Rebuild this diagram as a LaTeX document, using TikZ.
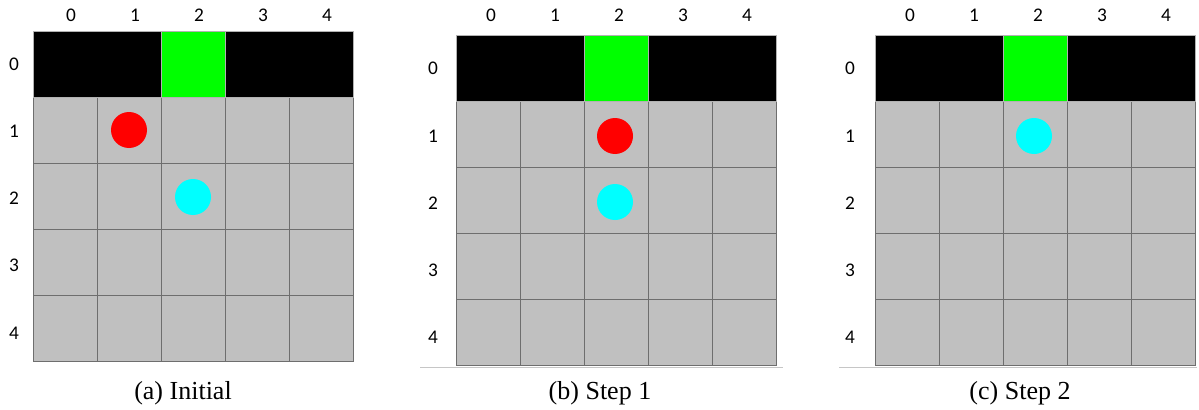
\documentclass[tikz,border=0pt]{standalone}
\usepackage{fontspec}
\setmainfont{Liberation Serif}
\newfontfamily\lblfont{Carlito}
\definecolor{cellgray}{HTML}{C0C0C0}
\definecolor{linegray}{HTML}{6E6E6E}
\definecolor{goalgreen}{HTML}{00FF00}
\definecolor{agentred}{HTML}{FF0000}
\definecolor{targetcyan}{HTML}{00FFFF}
\begin{document}
\begin{tikzpicture}[x=0.75pt,y=-0.75pt,
  cell/.style={fill=cellgray,draw=linegray,line width=0.7pt},
  wall/.style={fill=black,draw=gray!60,line width=0.7pt},
  goal/.style={fill=goalgreen,draw=gray!60,line width=0.7pt},
  lbl/.style={font=\lblfont\fontsize{14.5}{16}\selectfont,inner sep=0pt},
  subcap/.style={font=\fontsize{19.5}{22}\selectfont,inner sep=0pt},
  ball/.style={circle,minimum size=27pt,inner sep=0pt},
  baserule/.style={draw=gray!45,line width=0.6pt}]
\useasboundingbox (0,0) rectangle (1199,410);
% three panels: name/left/top/label shift/row label gap
\foreach \p/\ox/\oy/\dx/\rx in {a/33/31/6/19,b/456/35.7/3/23,c/875/35.7/3/25}{
  \foreach \r in {1,...,4}
    \foreach \c in {0,...,4}
      \draw[cell] (\ox+\c*64,\oy+\r*66) rectangle ++(64,66);
  \draw[wall] (\ox,\oy) rectangle ++(320,66);
  \draw[goal] (\ox+128,\oy) rectangle ++(64,66);
  \foreach \c in {0,...,4}
    \node[lbl] (\p-col\c) at (\ox+\c*64+32+\dx,15) {\c};
  \foreach \r in {0,...,4}
    \node[lbl] (\p-row\r) at (\ox-\rx,\oy+\r*66+33+\r*1.2) {\r};
}
% agents
\node[ball,fill=agentred] (a-red) at (129,130) {};
\node[ball,fill=targetcyan] (a-cyan) at (193,197) {};
\node[ball,fill=agentred] (b-red) at (615,136) {};
\node[ball,fill=targetcyan] (b-cyan) at (615,202) {};
\node[ball,fill=targetcyan] (c-cyan) at (1034,136) {};
% base rules under (b) and (c)
\draw[baserule] (420,367) -- (783,367);
\draw[baserule] (839,367) -- (1197,367);
% captions
\node[subcap] (a-cap) at (183,393) {(a) Initial};
\node[subcap] (b-cap) at (600,393) {(b) Step 1};
\node[subcap] (c-cap) at (1020,393) {(c) Step 2};
\end{tikzpicture}
\end{document}
